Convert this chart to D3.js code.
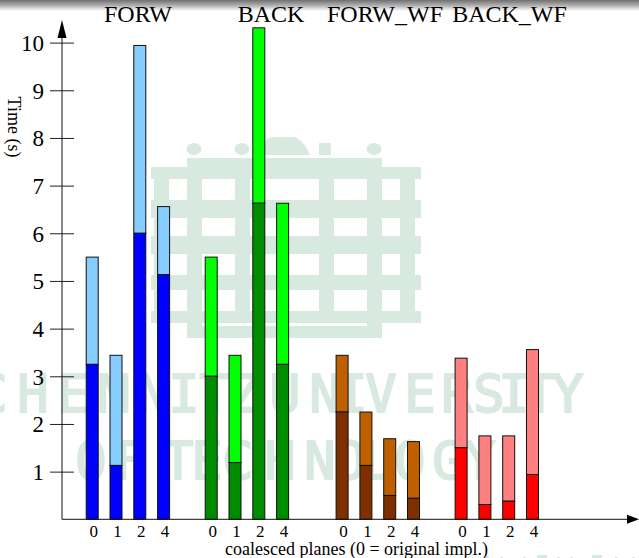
<!DOCTYPE html>
<html>
<head>
<meta charset="utf-8">
<style>html,body{margin:0;padding:0;background:#fff}svg{display:block}text{font-family:"Liberation Serif","Times New Roman",serif;fill:#000}</style>
<script src="https://cdn.jsdelivr.net/npm/d3@7"></script>
</head>
<body>
<svg id="c" width="639" height="558"></svg>
<script>
const groupNames = ["FORW","BACK","FORW_WF","BACK_WF"];
const planes = ["0","1","2","4"];
const groupSlots = [0,5,10.5,15.5];
const forwBase = [3.25,1.13,6.0,5.13];
const forwTotal = [5.5,3.44,9.94,6.56];
const backBase = [3.0,1.19,6.63,3.25];
const backTotal = [5.5,3.44,10.31,6.63];
const forwWfBase = [2.25,1.13,0.5,0.44];
const forwWfTotal = [3.44,2.25,1.69,1.63];
const backWfBase = [1.5,0.31,0.38,0.94];
const backWfTotal = [3.38,1.75,1.75,3.56];
const baseColors = ["#0000ff","#008c00","#7f3000","#ff0000"];
const totalColors = ["#87ccff","#00ff00","#bf6000","#ff8080"];
const yTicks = [1,2,3,4,5,6,7,8,9,10];
const bases = [forwBase,backBase,forwWfBase,backWfBase];
const totals = [forwTotal,backTotal,forwWfTotal,backWfTotal];

const svg = d3.select("#c");
const defs = svg.append("defs");
const grad = defs.append("linearGradient").attr("id","shade").attr("x1",0).attr("x2",0).attr("y1",0).attr("y2",1);
grad.append("stop").attr("offset",0).attr("stop-color","#707070");
grad.append("stop").attr("offset",0.5).attr("stop-color","#b0b0b0");
grad.append("stop").attr("offset",1).attr("stop-color","#ffffff");

svg.append("rect").attr("width",639).attr("height",558).attr("fill","#fff");

/* watermark (decorative background) */
const wm = svg.append("g").attr("class","watermark");
const WM = "#d8e9e0";
const wmRects = [[151,167,270,156],[187,158,195,9],[187,323,195,15]];
wm.selectAll("rect.b").data(wmRects).join("rect").attr("class","b")
  .attr("x",d=>d[0]).attr("y",d=>d[1]).attr("width",d=>d[2]).attr("height",d=>d[3])
  .attr("fill",WM).attr("shape-rendering","crispEdges");
const winRows = [[179,21],[218,18],[254,21],[290,21]];
const winCols = [[151,3],[169,18],[202,33],[250,69],[334,33],[382,18],[415,6]];
winRows.forEach(r=>winCols.forEach(c=>{
  wm.append("rect").attr("x",c[0]).attr("y",r[0]).attr("width",c[1]).attr("height",r[1])
    .attr("fill","#fff").attr("shape-rendering","crispEdges");
}));
wm.append("rect").attr("x",202).attr("y",323).attr("width",165).attr("height",3).attr("fill","#fff");
[[194,149],[242,149],[374,149]].forEach(p=>{
  wm.append("ellipse").attr("cx",p[0]).attr("cy",p[1]).attr("rx",7.5).attr("ry",6).attr("fill",WM);
});
wm.append("rect").attr("x",319).attr("y",143).attr("width",12).attr("height",12).attr("fill",WM);
wm.append("path").attr("d","M253,155 L259,146 L266,140 L271,137 L295,137 L301,141 L306,147 L310,155 Z").attr("fill",WM);

function wmText(str, xs, baseline){
  wm.append("text")
    .attr("x",xs.join(" ")).attr("y",baseline)
    .attr("text-anchor","middle")
    .style("font-family",'"DejaVu Sans Mono",monospace')
    .style("font-size","52px")
    .style("fill",WM).style("stroke",WM).style("stroke-width","2px")
    .text(str);
}
wmText("CHEMNITZUNIVERSITY",[-8,33,73,114,153,184,215,245,285,325,352,381,420,457,489,514,540,568],412);
wmText("OFTECHNOLOGY",[91,130,178,207,238,280,320,350,378,410,448,480],479);
[[484,556,5],[500,557,3],[523,557,3],[537,555,10],[557,557,3],[570,557,3],[592,555,10],[615,557,3],[632,557,3]].forEach(d=>{
  wm.append("rect").attr("x",d[0]).attr("y",d[1]).attr("width",d[2]).attr("height",558-d[1]).attr("fill",WM);
});

/* top shade */
svg.append("rect").attr("x",0).attr("y",0).attr("width",639).attr("height",11).attr("fill","url(#shade)");

/* scales */
const x = d3.scaleLinear().domain([0,1]).range([92.2,116]);
const y = d3.scaleLinear().domain([0,10]).range([519.3,42.6]);
const barW = 12;

/* bars */
const rows = [];
groupNames.forEach((g,gi)=>planes.forEach((p,pi)=>{
  rows.push({slot:groupSlots[gi]+pi,g:gi,base:bases[gi][pi],total:totals[gi][pi],p});
}));
const bars = svg.append("g");
bars.selectAll("rect.total").data(rows).join("rect").attr("class","total")
  .attr("x",d=>x(d.slot)-barW/2).attr("width",barW)
  .attr("y",d=>y(d.total)).attr("height",d=>y(d.base)-y(d.total))
  .attr("fill",d=>totalColors[d.g]).attr("stroke","#111").attr("stroke-width",1);
bars.selectAll("rect.base").data(rows).join("rect").attr("class","base")
  .attr("x",d=>x(d.slot)-barW/2).attr("width",barW)
  .attr("y",d=>y(d.base)).attr("height",d=>y(0)-y(d.base))
  .attr("fill",d=>baseColors[d.g]).attr("stroke","#111").attr("stroke-width",1);

/* y axis */
const yAxis = d3.axisLeft(y).tickValues(yTicks).tickSize(0).tickPadding(0);
const gy = svg.append("g").attr("transform","translate(62,0)").call(yAxis);
gy.select(".domain").remove();
gy.selectAll(".tick line").attr("x1",-12).attr("x2",12).attr("stroke","#222").attr("stroke-width",1);
gy.selectAll(".tick text").attr("x",-18).attr("dy","8").attr("text-anchor","end")
  .style("font-size","23px").style("font-family",'"Liberation Serif",serif').style("fill","#000");
svg.append("line").attr("x1",62).attr("x2",62).attr("y1",y(0)).attr("y2",36).attr("stroke","#111").attr("stroke-width",1);
svg.append("path").attr("d","M62,20 L66.5,38 L57.5,38 Z").attr("fill","#000");

/* x axis */
const xAxis = d3.axisBottom(x).tickValues(rows.map(d=>d.slot)).tickSize(0).tickPadding(0)
  .tickFormat(s=>rows.find(r=>r.slot===s).p);
const gx = svg.append("g").attr("transform",`translate(1,${y(0)})`).call(xAxis);
gx.select(".domain").remove();
gx.selectAll(".tick text").attr("y",18).attr("dy",0)
  .style("font-size","17px").style("font-family",'"Liberation Serif",serif').style("fill","#000");
svg.append("line").attr("x1",62).attr("x2",628).attr("y1",y(0)).attr("y2",y(0)).attr("stroke","#111").attr("stroke-width",1);
svg.append("path").attr("d",`M639,${y(0)} L627,${y(0)-4.5} L627,${y(0)+4.5} Z`).attr("fill","#000");

/* titles */
const titleCenters = [138,271,385,509.5];
svg.selectAll("text.title").data(groupNames).join("text").attr("class","title")
  .attr("x",(d,i)=>titleCenters[i]).attr("y",22).attr("text-anchor","middle")
  .style("font-size","24px").text(d=>d);

svg.append("text").attr("x",356.5).attr("y",555).attr("text-anchor","middle")
  .style("font-size","18px").text("coalesced planes (0 = original impl.)");
svg.append("text").attr("transform","translate(8,127) rotate(90)").attr("text-anchor","middle")
  .style("font-size","18px").text("Time (s)");
</script>
</body>
</html>
